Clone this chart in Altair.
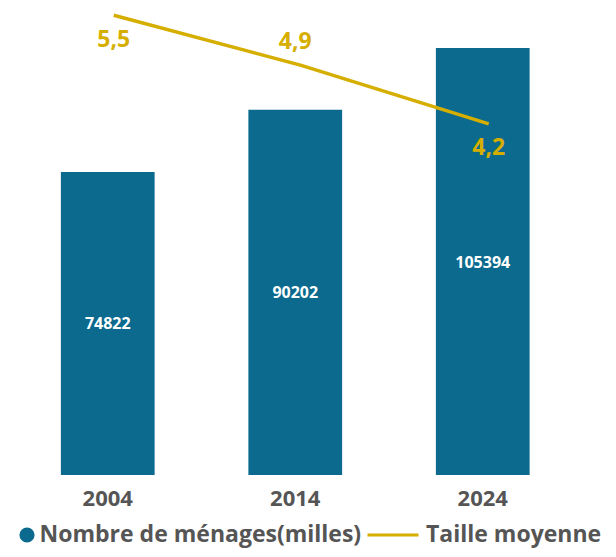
import altair as alt
import pandas as pd

years = ["2004", "2014", "2024"]
menages = [74822, 90202, 105394]
taille = [5.5, 4.9, 4.2]
serie_bar = "Nombre de ménages(milles)"
serie_line = "Taille moyenne"

BLUE = "#0B6A8D"
GOLD = "#D6AE00"
GREY = "#555555"
FONT = "Open Sans"

df = pd.DataFrame({"annee": years, "menages": menages, "taille": taille})
df["serie_b"] = serie_bar
df["serie_l"] = serie_line

x_enc = alt.X(
    "annee:N",
    sort=years,
    scale=alt.Scale(paddingInner=0.5, paddingOuter=0.25),
    axis=alt.Axis(title=None, labelAngle=0, ticks=False, domain=False, grid=False,
                  labelFont=FONT, labelFontSize=22, labelFontWeight="bold",
                  labelColor=GREY, labelPadding=13),
)

y_bar_scale = alt.Scale(domain=[0, 115300], nice=False, zero=True)
y_line_scale = alt.Scale(domain=[0, 5.586], nice=False, zero=True)

base = alt.Chart(df).encode(x=x_enc)

bars = base.mark_bar().encode(
    y=alt.Y("menages:Q", scale=y_bar_scale, axis=None),
    color=alt.Color(
        "serie_b:N",
        scale=alt.Scale(domain=[serie_bar], range=[BLUE]),
        legend=alt.Legend(orient="none", legendX=1.5, legendY=515.5, title=None,
                          symbolType="circle", symbolSize=230, symbolStrokeWidth=0,
                          labelFont=FONT, labelFontSize=23, labelFontWeight="bold",
                          labelColor=GREY, labelOffset=1, padding=0, labelLimit=1000),
    ),
)

bar_text = base.transform_calculate(mid="datum.menages / 2").mark_text(
    color="white", font=FONT, fontSize=16, fontWeight="bold", baseline="middle", dy=1
).encode(
    y=alt.Y("mid:Q", scale=y_bar_scale, axis=None),
    text=alt.Text("menages:Q", format="d"),
)

line = base.mark_line(strokeWidth=3.5, xOffset=6).encode(
    y=alt.Y("taille:Q", scale=y_line_scale, axis=None),
    stroke=alt.Stroke(
        "serie_l:N",
        scale=alt.Scale(domain=[serie_line], range=[GOLD]),
        legend=alt.Legend(orient="none", legendX=352, legendY=500, title=None,
                          symbolType="stroke", symbolSize=2601, symbolStrokeWidth=3,
                          labelFont=FONT, labelFontSize=23, labelFontWeight="bold",
                          labelColor=GREY, labelOffset=6, padding=0, labelLimit=1000),
    ),
)

lbl_calc = "replace(format(datum.taille, '.1f'), '.', ',')"

labels_below = base.transform_filter("datum.annee != '2014'").transform_calculate(
    lbl=lbl_calc
).mark_text(color=GOLD, font=FONT, fontSize=23, fontWeight="bold",
            baseline="middle", dx=6, dy=24.5).encode(
    y=alt.Y("taille:Q", scale=y_line_scale, axis=None),
    text="lbl:N",
)

labels_above = base.transform_filter("datum.annee == '2014'").transform_calculate(
    lbl=lbl_calc
).mark_text(color=GOLD, font=FONT, fontSize=23, fontWeight="bold",
            baseline="middle", dx=0, dy=-23).encode(
    y=alt.Y("taille:Q", scale=y_line_scale, axis=None),
    text="lbl:N",
)

chart = alt.layer(bars, bar_text, line, labels_below, labels_above).resolve_scale(
    y="independent"
).properties(
    width=562.5,
    height=467,
    background="white",
    padding={"left": 6, "top": 0, "right": 31.5, "bottom": 74},
    autosize=alt.AutoSizeParams(type="none"),
).configure_view(strokeWidth=0, stroke="transparent")

chart.save("out.html", embed_options={"renderer": "svg", "actions": False})
